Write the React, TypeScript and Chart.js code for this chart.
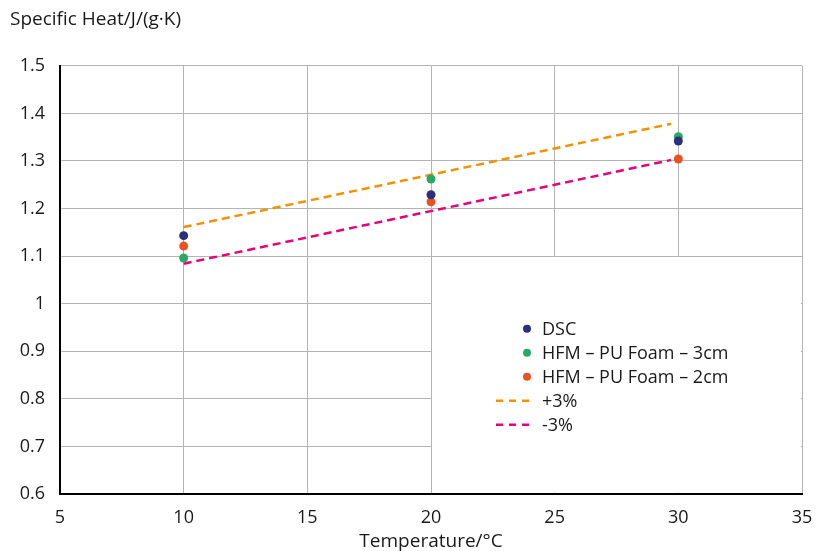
import React, { useEffect, useRef } from 'react';
import { Chart, registerables } from 'chart.js';

Chart.register(...registerables);

// Data
const temperatures = [10, 20, 30];
const dscValues = [1.143, 1.229, 1.342];
const hfm3cmValues = [1.096, 1.262, 1.351];
const hfm2cmValues = [1.121, 1.214, 1.304];
const boundTemps = [10, 29.7];
const plus3Values = [1.161, 1.378];
const minus3Values = [1.084, 1.302];

const seriesLabels = ['DSC', 'HFM – PU Foam – 3cm', 'HFM – PU Foam – 2cm', '+3%', '-3%'];
const yTitle = 'Specific Heat/J/(g·K)';
const xTitle = 'Temperature/°C';

const FONT = '"Open Sans", "Noto Sans", sans-serif';
const TEXT = '#1a1a1a';

const toPts = (xs: number[], ys: number[]) => xs.map((x, i) => ({ x, y: ys[i] }));

const legendBoxPlugin = {
  id: 'legendBox',
  beforeDatasetsDraw(chart: any) {
    const { ctx, chartArea, scales } = chart;
    const x0 = scales.x.getPixelForValue(20) + 1;
    const y0 = scales.y.getPixelForValue(1.1) + 1;
    ctx.save();
    ctx.fillStyle = '#ffffff';
    ctx.fillRect(x0, y0, chartArea.right - 1 - x0, chartArea.bottom - 1.5 - y0);
    ctx.restore();
  },
  afterDraw(chart: any) {
    const { ctx, chartArea } = chart;
    const markerX = chartArea.right - 275;
    const textX = markerX + 15;
    const y0 = chartArea.top + 263;
    const step = 24;
    ctx.save();
    ctx.font = `18px ${FONT}`;
    ctx.textBaseline = 'middle';
    ctx.textAlign = 'left';
    chart.data.datasets.forEach((ds: any, i: number) => {
      const y = y0 + i * step;
      if (ds.showLine) {
        ctx.strokeStyle = ds.borderColor;
        ctx.lineWidth = 2.5;
        ctx.setLineDash([7, 6]);
        ctx.beginPath();
        ctx.moveTo(markerX - 31, y);
        ctx.lineTo(markerX + 7, y);
        ctx.stroke();
        ctx.setLineDash([]);
      } else {
        ctx.fillStyle = ds.backgroundColor;
        ctx.beginPath();
        ctx.arc(markerX, y, 4, 0, Math.PI * 2);
        ctx.fill();
      }
      ctx.fillStyle = TEXT;
      ctx.fillText(ds.label, textX, y + 1);
    });
    ctx.restore();
  },
};

export default function App() {
  const ref = useRef<HTMLCanvasElement | null>(null);

  useEffect(() => {
    if (!ref.current) return;
    const pointDs = (label: string, ys: number[], color: string) => ({
      label,
      data: toPts(temperatures, ys),
      backgroundColor: color,
      borderColor: color,
      pointRadius: 4.5,
      pointBorderWidth: 0,
      showLine: false,
    });
    const lineDs = (label: string, ys: number[], color: string) => ({
      label,
      data: toPts(boundTemps, ys),
      backgroundColor: color,
      borderColor: color,
      borderWidth: 2.5,
      borderDash: [8, 5],
      pointRadius: 0,
      showLine: true,
      fill: false,
    });
    const chart = new Chart(ref.current, {
      type: 'scatter',
      data: {
        datasets: [
          pointDs(seriesLabels[0], dscValues, '#2b2f7e'),
          pointDs(seriesLabels[1], hfm3cmValues, '#2aa866'),
          pointDs(seriesLabels[2], hfm2cmValues, '#e9531f'),
          lineDs(seriesLabels[3], plus3Values, '#f39200'),
          lineDs(seriesLabels[4], minus3Values, '#e5007d'),
        ] as any,
      },
      options: {
        animation: false,
        responsive: false,
        layout: { padding: { left: 10, right: 0, top: 0, bottom: 0 } },
        plugins: {
          legend: { display: false },
          tooltip: { enabled: false },
          title: {
            display: true,
            text: yTitle,
            align: 'start',
            color: TEXT,
            font: { family: FONT, size: 19, weight: 'normal' },
            padding: { top: 8, bottom: 35 },
          },
        },
        scales: {
          x: {
            type: 'linear',
            min: 5,
            max: 35,
            afterFit: (s: any) => {
              s.height = 57;
              s.paddingRight = 14;
              s.paddingLeft = 0;
            },
            ticks: { stepSize: 5, padding: 13, color: TEXT, font: { family: FONT, size: 18 } },
            grid: { color: '#b4b4b4', lineWidth: 1, drawTicks: false },
            border: { display: true, color: '#000', width: 2 },
            title: {
              display: true,
              text: xTitle,
              color: TEXT,
              font: { family: FONT, size: 19 },
              padding: { top: 0, bottom: -2 },
            },
          },
          y: {
            type: 'linear',
            min: 0.6,
            max: 1.5,
            afterFit: (s: any) => { s.width = 50; },
            ticks: {
              stepSize: 0.1,
              padding: 15,
              color: TEXT,
              font: { family: FONT, size: 18 },
              callback: (v: any) => String(+Number(v).toFixed(1)),
            },
            grid: { color: '#b4b4b4', lineWidth: 1, drawTicks: false },
            border: { display: true, color: '#000', width: 2 },
          },
        },
      } as any,
      plugins: [legendBoxPlugin],
    });
    return () => chart.destroy();
  }, []);

  return (
    <div style={{ position: 'absolute', left: 0, top: 0, width: 816, height: 551, background: '#fff' }}>
      <canvas ref={ref} width={816} height={551} style={{ display: 'block' }} />
    </div>
  );
}
